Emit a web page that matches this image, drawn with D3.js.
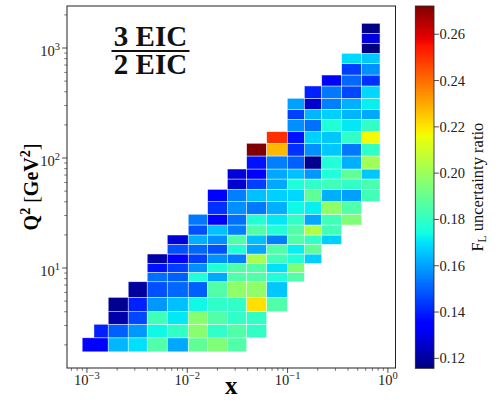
<!DOCTYPE html>
<html><head><meta charset="utf-8">
<script src="https://cdn.jsdelivr.net/npm/d3@7"></script>
<style>html,body{margin:0;padding:0;background:#fff;}svg{display:block;}</style>
</head><body><div id="chart"></div>
<script>
// ---- data ----
const xEdges = [0.000897, 0.00163, 0.00258, 0.00399, 0.00632, 0.01023, 0.01597, 0.0251, 0.0391, 0.0619, 0.0993, 0.147, 0.219, 0.346, 0.548, 0.834];
const rowLowX = [0.000897, 0.001175];
const q2Edges = [1.73, 2.32, 3.08, 4.01, 5.41, 7.5, 9.14, 11.0, 13.4, 16.4, 19.95, 24.6, 30.8, 40.1, 51.9, 64.4, 79.4, 104.3, 136.1, 173.4, 224.8, 277.2, 349, 451.6, 568, 726, 895, 1104, 1360, 1677];
const rowStart = [0,0,1,1,2,3,3,3,4,4,5,5,6,6,7,7,8,8,9,10,10,10,11,12,13,13,14,14,14];
const rowValues = [
  [0.1337,0.1634,0.1695,0.1857,0.1611,0.1888,0.1947,0.1857],
  [0.1401,0.1500,0.1586,0.1735,0.1799,0.1963,0.1796,0.1857,0.1799],
  [0.1215,0.1462,0.1827,0.1708,0.1963,0.1857,0.1796,0.1799],
  [0.1179,0.1401,0.1586,0.1647,0.1735,0.1796,0.1799,0.2210,0.1857],
  [0.1200,0.1475,0.1512,0.1500,0.1857,0.1979,0.1979,0.1659],
  [0.1525,0.1500,0.1766,0.1611,0.1857,0.1857,0.1766,0.1857],
  [0.1378,0.1450,0.1573,0.1767,0.1857,0.1857,0.1695,0.1947],
  [0.1215,0.1337,0.1450,0.1573,0.1548,0.2026,0.1827,0.1767,0.1672],
  [0.1475,0.1512,0.1475,0.1767,0.1611,0.1857,0.1720,0.1888],
  [0.1276,0.1622,0.1573,0.1857,0.1647,0.1548,0.1857,0.1796,0.1672],
  [0.1475,0.1647,0.1548,0.1857,0.1767,0.1857,0.2040,0.1827],
  [0.1537,0.1337,0.1525,0.1767,0.1708,0.1796,0.1611,0.1827,0.1947],
  [0.1426,0.1573,0.1537,0.1622,0.1735,0.1720,0.1979,0.1857],
  [0.1337,0.1548,0.1647,0.1672,0.1684,0.1888,0.1622,0.1598,0.1827],
  [0.1265,0.1450,0.1611,0.1766,0.1796,0.1827,0.1799,0.1841],
  [0.1276,0.1337,0.1611,0.1647,0.1586,0.1766,0.1888,0.1659],
  [0.1378,0.1548,0.1500,0.1179,0.1766,0.1622,0.2008],
  [0.2722,0.2276,0.1426,0.1573,0.1659,0.1537,0.1796],
  [0.2503,0.1378,0.1672,0.1659,0.1796,0.2166],
  [0.1573,0.1525,0.1767,0.1708,0.1799],
  [0.1450,0.1634,0.1672,0.1634,0.1611],
  [0.1598,0.1265,0.1548,0.1622,0.1720],
  [0.1401,0.1537,0.1462,0.1684],
  [0.1337,0.1512,0.1426],
  [0.1450,0.1573],
  [0.1684,0.1659],
  [0.1157],
  [0.1287],
  [0.1170]
];
const xTicks = [1e-3, 1e-2, 1e-1, 1];
const xTickExp = ["\u22123", "\u22122", "\u22121", "0"];
const yTicks = [10, 100, 1000];
const yTickExp = ["1", "2", "3"];
const cbTicks = [0.12, 0.14, 0.16, 0.18, 0.20, 0.22, 0.24, 0.26];

// ---- layout ----
const W = 500, H = 400;
const L = 67, R = 395.5, T = 6, B = 368;
const serif = "'Liberation Serif','DejaVu Serif',serif";

const svg = d3.select("#chart").append("svg").attr("width", W).attr("height", H);

const x = d3.scaleLog().domain([6.33e-4, 1.19]).range([L, R]);
const y = d3.scaleLog().domain([1.233, 2409]).range([B, T]);

const all = rowValues.flat();
const [vmin, vmax] = d3.extent(all);

const jr = d3.scaleLinear().domain([0,0.35,0.66,0.89,1]).range([0,0,1,1,0.5]).clamp(true);
const jg = d3.scaleLinear().domain([0,0.125,0.375,0.64,0.91,1]).range([0,0,1,1,0,0]).clamp(true);
const jb = d3.scaleLinear().domain([0,0.11,0.34,0.65,1]).range([0.5,1,1,0,0]).clamp(true);
function jet(t){ t = Math.max(0, Math.min(1, t));
  return d3.rgb(jr(t)*255, jg(t)*255, jb(t)*255).toString(); }
const norm = d3.scaleLinear().domain([vmin, vmax]).range([0,1]);
const color = v => jet(norm(v));

// cells
const cells = [];
rowValues.forEach((vals, r) => {
  vals.forEach((v, k) => {
    const c = rowStart[r] + k;
    let x0 = xEdges[c];
    if (c === 0 && r < rowLowX.length) x0 = rowLowX[r];
    cells.push({x0, x1: xEdges[c+1], y0: q2Edges[r], y1: q2Edges[r+1], v});
  });
});
svg.append("g").selectAll("rect").data(cells).join("rect")
  .attr("x", d => x(d.x0)).attr("y", d => y(d.y1))
  .attr("width", d => x(d.x1) - x(d.x0)).attr("height", d => y(d.y0) - y(d.y1))
  .attr("fill", d => color(d.v))
  .attr("stroke", "#ffffff").attr("stroke-opacity", 0.75).attr("stroke-width", 0.6);

// frame
svg.append("rect").attr("x", L).attr("y", T).attr("width", R-L).attr("height", B-T)
  .attr("fill", "none").attr("stroke", "#222").attr("stroke-width", 1);

// x ticks
const xMinor = [];
for (let e = -4; e <= 0; e++) for (let m = 2; m <= 9; m++) { const v = m*Math.pow(10,e); if (v > x.domain()[0] && v < x.domain()[1]) xMinor.push(v); }
const gx = svg.append("g");
gx.selectAll("line.mi").data(xMinor).join("line").attr("class","mi")
  .attr("x1", d => x(d)).attr("x2", d => x(d)).attr("y1", B).attr("y2", B+2.8)
  .attr("stroke", "#222").attr("stroke-width", 0.6);
gx.selectAll("line.ma").data(xTicks).join("line").attr("class","ma")
  .attr("x1", d => x(d)).attr("x2", d => x(d)).attr("y1", B).attr("y2", B+4.9)
  .attr("stroke", "#222").attr("stroke-width", 0.8);
const xt = gx.selectAll("text").data(xTicks).join("text")
  .attr("x", d => x(d)).attr("y", 385).attr("text-anchor", "middle")
  .attr("font-family", serif).attr("font-size", 14.5).attr("fill", "#222");
xt.append("tspan").text("10");
xt.append("tspan").attr("dy", -6).attr("font-size", 10.5).text((d,i) => xTickExp[i]);

// y ticks
const yMinor = [];
for (let e = 0; e <= 3; e++) for (let m = 2; m <= 9; m++) { const v = m*Math.pow(10,e); if (v > y.domain()[0] && v < y.domain()[1]) yMinor.push(v); }
const gy = svg.append("g");
gy.selectAll("line.mi").data(yMinor).join("line").attr("class","mi")
  .attr("x1", L-2.8).attr("x2", L).attr("y1", d => y(d)).attr("y2", d => y(d))
  .attr("stroke", "#222").attr("stroke-width", 0.6);
gy.selectAll("line.ma").data(yTicks).join("line").attr("class","ma")
  .attr("x1", L-4.9).attr("x2", L).attr("y1", d => y(d)).attr("y2", d => y(d))
  .attr("stroke", "#222").attr("stroke-width", 0.8);
const yt = gy.selectAll("text").data(yTicks).join("text")
  .attr("x", L-7).attr("y", d => y(d)+8).attr("text-anchor", "end")
  .attr("font-family", serif).attr("font-size", 14.5).attr("fill", "#222");
yt.append("tspan").text("10");
yt.append("tspan").attr("dy", -6).attr("font-size", 10.5).text((d,i) => yTickExp[i]);

// axis labels
svg.append("text").attr("x", (L+R)/2).attr("y", 394).attr("text-anchor", "middle")
  .attr("font-family", serif).attr("font-weight", "bold").attr("font-size", 25).text("x");
const yl = svg.append("text").attr("transform", `translate(38,${(T+B)/2}) rotate(-90)`)
  .attr("text-anchor", "middle").attr("font-family", serif).attr("font-weight", "bold").attr("font-size", 20);
yl.append("tspan").text("Q");
yl.append("tspan").attr("dy", -8).attr("font-size", 14).text("2");
yl.append("tspan").attr("dy", 8).attr("font-weight", "normal").text(" [");
yl.append("tspan").text("GeV");
yl.append("tspan").attr("dy", -8).attr("font-size", 14).text("2");
yl.append("tspan").attr("dy", 8).attr("font-weight", "normal").text("]");

// title fraction
const tg = svg.append("g").attr("font-family", serif).attr("font-weight", "bold").attr("font-size", 29).attr("fill", "#111");
tg.append("text").attr("x", 150.5).attr("y", 46).attr("text-anchor", "middle").text("3 EIC");
tg.append("line").attr("x1", 111.5).attr("x2", 189.5).attr("y1", 51).attr("y2", 51).attr("stroke", "#111").attr("stroke-width", 1.8);
tg.append("text").attr("x", 150.5).attr("y", 74).attr("text-anchor", "middle").text("2 EIC");

// colorbar
const cbL = 415.3, cbR = 434, cbT = 6, cbB = 368.3;
const cy = d3.scaleLinear().domain([vmin, vmax]).range([cbB, cbT]);
const defs = svg.append("defs");
const grad = defs.append("linearGradient").attr("id", "jetgrad").attr("x1", 0).attr("y1", 1).attr("x2", 0).attr("y2", 0);
d3.range(0, 1.0001, 0.01).forEach(t => grad.append("stop").attr("offset", t).attr("stop-color", jet(t)));
svg.append("rect").attr("x", cbL).attr("y", cbT).attr("width", cbR-cbL).attr("height", cbB-cbT)
  .attr("fill", "url(#jetgrad)").attr("stroke", "#222").attr("stroke-width", 0.8);
const gc = svg.append("g");
gc.selectAll("line").data(cbTicks).join("line")
  .attr("x1", cbR).attr("x2", cbR+4.9).attr("y1", d => cy(d)).attr("y2", d => cy(d))
  .attr("stroke", "#222").attr("stroke-width", 0.8);
gc.selectAll("text").data(cbTicks).join("text")
  .attr("x", cbR+5.5).attr("y", d => cy(d)+5).attr("font-family", serif).attr("font-size", 14.5).attr("fill", "#222")
  .text(d => d.toFixed(2));
const cl = svg.append("text").attr("transform", `translate(483,${(cbT+cbB)/2}) rotate(-90)`)
  .attr("text-anchor", "middle").attr("font-family", serif).attr("font-size", 16.5).attr("fill", "#111");
cl.append("tspan").text("F");
cl.append("tspan").attr("dy", 3).attr("font-size", 11.5).text("L");
cl.append("tspan").attr("dy", -3).text(" uncertainty ratio");
</script></body></html>
